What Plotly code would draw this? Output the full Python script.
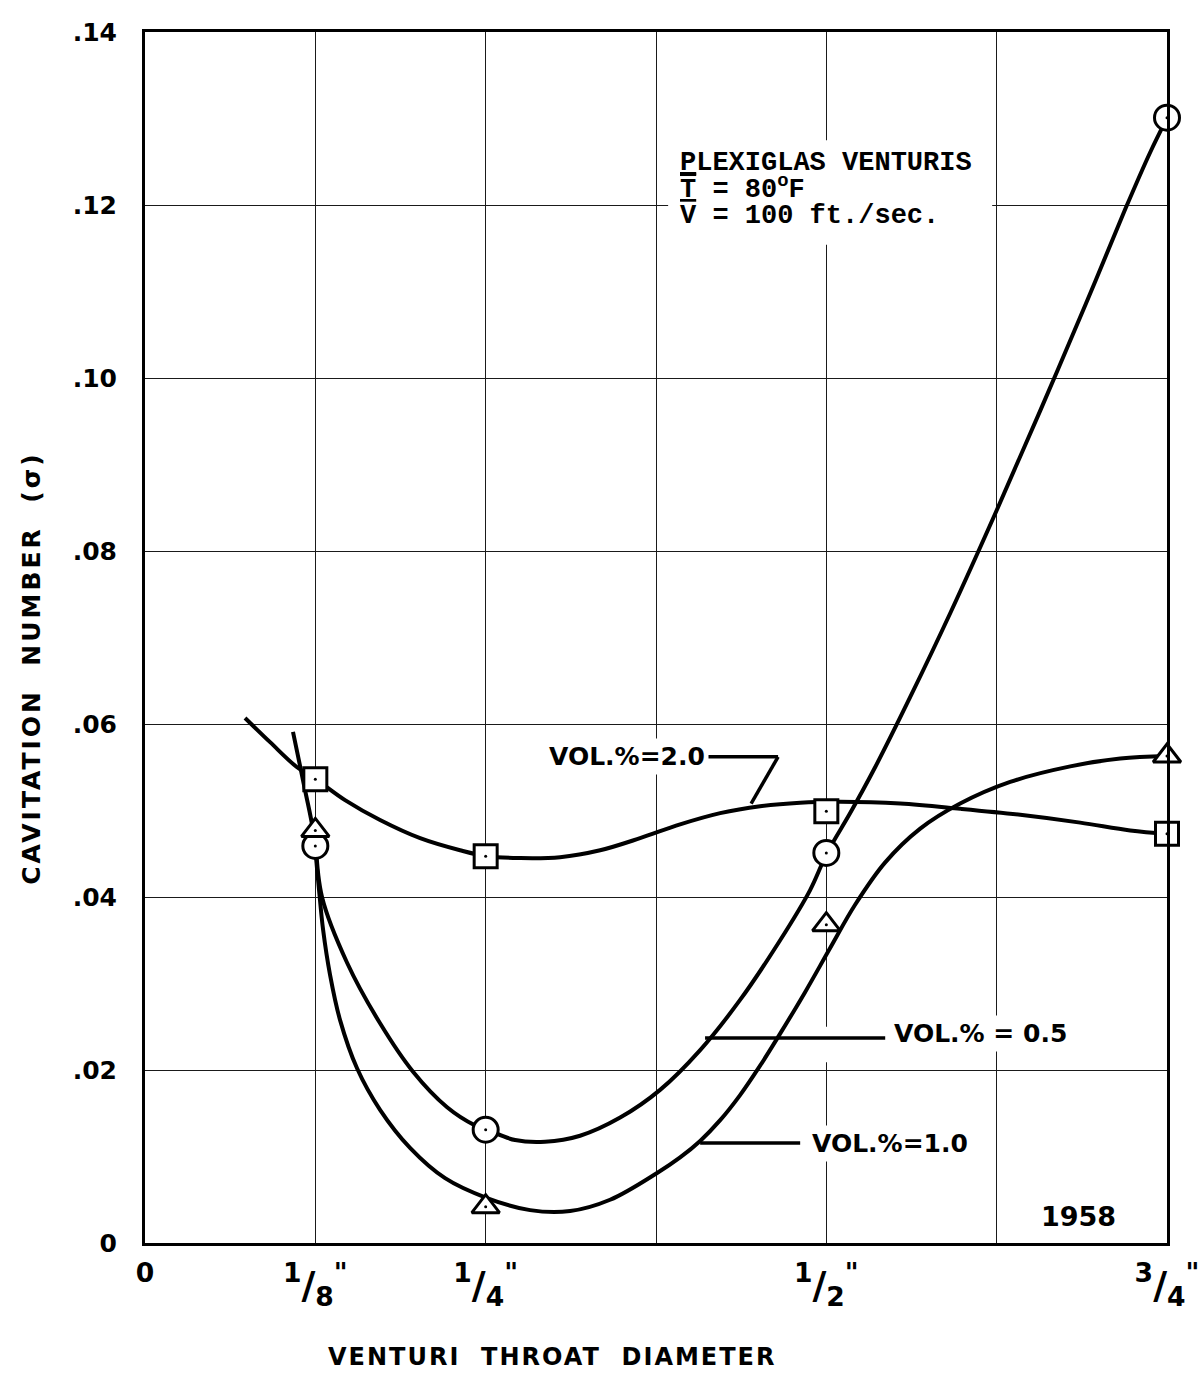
import plotly.graph_objects as go

# ---------------- data ----------------
diam_ticks = [0, 0.125, 0.25, 0.375, 0.5, 0.625, 0.75]
diam_labels = ['<sup>0</sup>',
               '<sup>1</sup>/<sub>8</sub><sup>"</sup>', '<sup>1</sup>/<sub>4</sub><sup>"</sup>', "",
               '<sup>1</sup>/<sub>2</sub><sup>"</sup>', "", '<sup>3</sup>/<sub>4</sub><sup>"</sup>']
sigma_ticks = [0, 0.02, 0.04, 0.06, 0.08, 0.10, 0.12, 0.14]
sigma_labels = ["0", ".02", ".04", ".06", ".08", ".10", ".12", ".14"]

diam = [0.125, 0.25, 0.5, 0.75]
sigma_vol05 = [0.0459, 0.0131, 0.0451, 0.1301]   # circles
sigma_vol10 = [0.0477, 0.0042, 0.0368, 0.0563]   # triangles
sigma_vol20 = [0.0536, 0.0447, 0.0499, 0.0473]   # squares

# hand-faired curves
curve05_x = [0.1255, 0.1299, 0.1483, 0.1725, 0.1967, 0.2217, 0.2422, 0.2510, 0.2716, 0.2936,
             0.3193, 0.3487, 0.3780, 0.4074, 0.4367, 0.4661, 0.4881, 0.5006, 0.5175, 0.5358,
             0.5615, 0.5909, 0.6239, 0.6569, 0.6900, 0.7193, 0.7377, 0.7502]
curve05_y = [0.0459, 0.0400, 0.0324, 0.0254, 0.0198, 0.0157, 0.0136, 0.0131, 0.0119, 0.0117,
             0.0124, 0.0145, 0.0177, 0.0223, 0.0281, 0.0350, 0.0408, 0.0451, 0.0497, 0.0550,
             0.0631, 0.0728, 0.0843, 0.0962, 0.1084, 0.1195, 0.1261, 0.1301]
curve10_x = [0.1086, 0.1174, 0.1233, 0.1270, 0.1307, 0.1358, 0.1431, 0.1556, 0.1725, 0.1945,
             0.2202, 0.2510, 0.2826, 0.3120, 0.3413, 0.3758, 0.3927, 0.4074, 0.4221, 0.4367,
             0.4514, 0.4661, 0.4844, 0.5028, 0.5211, 0.5432, 0.5689, 0.5982, 0.6349, 0.6790,
             0.7157, 0.7502]
curve10_y = [0.0591, 0.0524, 0.0477, 0.0420, 0.0362, 0.0310, 0.0258, 0.0202, 0.0154, 0.0110,
             0.0075, 0.0052, 0.0038, 0.0037, 0.0050, 0.0081, 0.0099, 0.0118, 0.0142, 0.0171,
             0.0205, 0.0242, 0.0290, 0.0341, 0.0391, 0.0440, 0.0479, 0.0508, 0.0533, 0.0551,
             0.0560, 0.0563]
curve20_x = [0.0734, 0.0918, 0.1116, 0.1255, 0.1468, 0.1725, 0.2019, 0.2312, 0.2510, 0.2753,
             0.3046, 0.3340, 0.3633, 0.3927, 0.4221, 0.4514, 0.4808, 0.5101, 0.5542, 0.5982,
             0.6423, 0.6863, 0.7230, 0.7502]
curve20_y = [0.0607, 0.0579, 0.0550, 0.0536, 0.0512, 0.0489, 0.0468, 0.0454, 0.0447, 0.0445,
             0.0446, 0.0454, 0.0468, 0.0484, 0.0497, 0.0505, 0.0509, 0.0510, 0.0508, 0.0502,
             0.0495, 0.0486, 0.0477, 0.0473]

series_labels = ["VOL.%=2.0", "VOL.% = 0.5", "VOL.%=1.0"]
note_lines = ['<span style="text-decoration:underline">P</span>LEXIGLAS VENTURIS',
              '<span style="text-decoration:overline">T</span> = 80<sup>o</sup>F',
              '<span style="text-decoration:overline">V</span> = 100 ft./sec.']
year_text = "1958"
x_title = '<span style="letter-spacing:2px">VENTURI  THROAT  DIAMETER</span>'
y_title = '<span style="letter-spacing:3px">CAVITATION  NUMBER  (σ)</span>'

# ---------------- styles ----------------
INK = "black"
SANS = "DejaVu Sans"
MONO = "Liberation Mono"

fig = go.Figure()

for cx, cy in [(curve05_x, curve05_y), (curve10_x, curve10_y), (curve20_x, curve20_y)]:
    fig.add_trace(go.Scatter(x=cx, y=cy, mode="lines",
                             line=dict(color=INK, width=4, shape="spline", smoothing=1.0),
                             hoverinfo="skip", showlegend=False))

for ys, sym, size in [(sigma_vol20, "square", 23), (sigma_vol05, "circle", 25),
                      (sigma_vol10, "triangle-up", 24)]:
    fig.add_trace(go.Scatter(x=diam, y=ys, mode="markers", cliponaxis=False,
                             marker=dict(symbol=sym, size=size, color="white",
                                         line=dict(color=INK, width=3)),
                             showlegend=False))
    fig.add_trace(go.Scatter(x=diam, y=ys, mode="markers", cliponaxis=False,
                             marker=dict(symbol="circle", size=3, color=INK),
                             showlegend=False, hoverinfo="skip"))

# white background behind note block (covers grid only)
fig.add_shape(type="rect", xref="x", yref="y", x0=0.3839, x1=0.6217, y0=0.1154, y1=0.1275,
              fillcolor="white", line=dict(width=0), layer="between")
# gap in the 1/2" grid line around the 0.5 leader
fig.add_shape(type="rect", xref="x", yref="y", x0=0.4918, x1=0.5101, y0=0.0209, y1=0.0250,
              fillcolor="white", line=dict(width=0), layer="between")

# leader lines
leader = dict(color=INK, width=3.5)
fig.add_shape(type="line", xref="x", yref="y", x0=0.4110, y0=0.0562, x1=0.4646, y1=0.0562, line=leader)
fig.add_shape(type="line", xref="x", yref="y", x0=0.4646, y0=0.0562, x1=0.4448, y1=0.0508, line=leader)
fig.add_shape(type="line", xref="x", yref="y", x0=0.4110, y0=0.0237, x1=0.5432, y1=0.0237, line=leader)
fig.add_shape(type="line", xref="x", yref="y", x0=0.4074, y0=0.01156, x1=0.4808, y1=0.01156, line=leader)

label_font = dict(family=SANS, size=25, color=INK, weight="bold")
for txt, lx, ly in zip(series_labels, [0.2936, 0.5468, 0.4866], [0.0563, 0.0242, 0.01156]):
    fig.add_annotation(x=lx, y=ly, xref="x", yref="y", text=txt, showarrow=False,
                       xanchor="left", yanchor="middle", font=label_font,
                       bgcolor="white", borderpad=3)

note_font = dict(family=MONO, size=27, color=INK, weight="bold")
for txt, ny in zip(note_lines, [0.1249, 0.1220, 0.1187]):
    fig.add_annotation(x=0.3912, y=ny, xref="x", yref="y", text=txt, showarrow=False,
                       xanchor="left", yanchor="middle", font=note_font)

fig.add_annotation(x=0.6848, y=0.0031, xref="x", yref="y", text=year_text, showarrow=False,
                   xanchor="center", yanchor="middle",
                   font=dict(family=SANS, size=27, color=INK, weight="bold"))

fig.add_annotation(x=0.398, y=-0.094, xref="paper", yref="paper", text=x_title, showarrow=False,
                   xanchor="center", yanchor="middle",
                   font=dict(family=SANS, size=24, color=INK, weight="bold"))
fig.add_annotation(x=-0.1106, y=0.475, xref="paper", yref="paper", text=y_title, showarrow=False,
                   textangle=-90, xanchor="center", yanchor="middle",
                   font=dict(family=SANS, size=25, color=INK, weight="bold"))

axis_common = dict(showgrid=True, gridcolor="#1a1a1a", gridwidth=1.3, showline=True,
                   linecolor=INK, linewidth=3, mirror=True, zeroline=False, ticks="",
                   automargin=False)
fig.update_xaxes(range=[0, 0.75], tickmode="array", tickvals=diam_ticks, ticktext=diam_labels,
                 tickfont=dict(family=SANS, size=38, color=INK, weight="bold"),
                 ticklabelstandoff=6, ticklabeloverflow="allow", **axis_common)
fig.update_yaxes(range=[0, 0.14], tickmode="array", tickvals=sigma_ticks, ticktext=sigma_labels,
                 tickfont=dict(family=SANS, size=25, color=INK, weight="bold"),
                 ticklabelstandoff=20, **axis_common)

fig.update_layout(width=1204, height=1383,
                  margin=dict(l=145, r=37, t=32, b=140, autoexpand=False),
                  paper_bgcolor="white", plot_bgcolor="white", showlegend=False)

fig.write_html("out.html")
